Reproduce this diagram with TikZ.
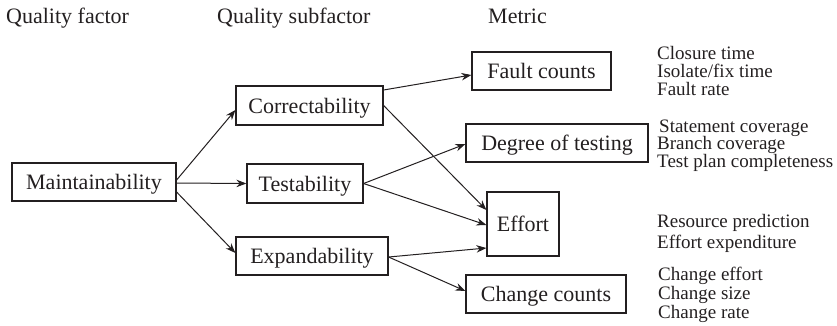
\documentclass[tikz,border=0pt]{standalone}
\usepackage{fontspec}
\setmainfont{Liberation Serif}
\usetikzlibrary{arrows.meta}
\definecolor{ink}{RGB}{35,31,32}
\begin{document}
\begin{tikzpicture}[x=1pt,y=-1pt,
  box/.style={draw=ink,line width=1.2pt,rectangle,inner sep=0pt,text=ink,
    font=\fontsize{22}{26}\selectfont,text height=15pt,text depth=0pt},
  hdr/.style={anchor=base west,inner sep=0pt,text=ink,font=\fontsize{22}{26}\selectfont},
  lst/.style={anchor=base west,inner sep=0pt,text=ink,font=\fontsize{19}{21}\selectfont},
  arr/.style={draw=ink,line width=1pt,-{Stealth[length=10pt,width=7.5pt]}}]
\useasboundingbox (0,0) rectangle (837,325);
% headers
\node[hdr] (h1) at (6,23) {Quality factor};
\node[hdr] (h2) at (217,23) {Quality subfactor};
\node[hdr] (h3) at (488,23) {Metric};
% boxes
\node[box,minimum width=164pt,minimum height=38pt] (m) at (94,182) {Maintainability};
\node[box,minimum width=147pt,minimum height=39pt] (c) at (309.5,105.5) {Correctability};
\node[box,minimum width=116pt,minimum height=39pt] (t) at (305,183.5) {Testability};
\node[box,minimum width=152pt,minimum height=38pt] (e) at (312,256) {Expandability};
\node[box,minimum width=139pt,minimum height=38pt] (fc) at (541.5,71) {Fault counts};
\node[box,minimum width=182pt,minimum height=38pt] (dt) at (557,143) {Degree of testing};
\node[box,minimum width=72pt,minimum height=64pt] (ef) at (523,224) {Effort};
\node[box,minimum width=160pt,minimum height=38pt] (cc) at (546,294) {Change counts};
% metric lists
\node[lst] (l1) at (657,59) {Closure time};
\node[lst] (l2) at (657,77) {Isolate/fix time};
\node[lst] (l3) at (657,95) {Fault rate};
\node[lst] (l4) at (659,132) {Statement coverage};
\node[lst] (l5) at (657,149.5) {Branch coverage};
\node[lst] (l6) at (657,167.2) {Test plan completeness};
\node[lst] (l7) at (657,227) {Resource prediction};
\node[lst] (l8) at (657,248) {Effort expenditure};
\node[lst] (l9) at (658,280) {Change effort};
\node[lst] (l10) at (658,299) {Change size};
\node[lst] (l11) at (658,318) {Change rate};
% connectors
\draw[arr] ([yshift=2pt]m.east) -- ([yshift=-4.5pt]c.west);
\draw[arr] ([yshift=-1pt]m.east) -- (t.west);
\draw[arr] ([yshift=-10pt]m.east) -- ([yshift=3pt]e.west);
\draw[arr] ([yshift=15.5pt]c.east) -- ([yshift=-4pt]fc.west);
\draw[arr] (c.east) -- ([yshift=14pt]ef.west);
\draw[arr] (t.east) -- ([yshift=-1pt]dt.west);
\draw[arr] (t.east) -- ([yshift=-1pt]ef.west);
\draw[arr] ([yshift=-1pt]e.east) -- ([yshift=-24pt]ef.west);
\draw[arr] ([yshift=-1pt]e.east) -- ([yshift=3pt]cc.west);
\end{tikzpicture}
\end{document}
